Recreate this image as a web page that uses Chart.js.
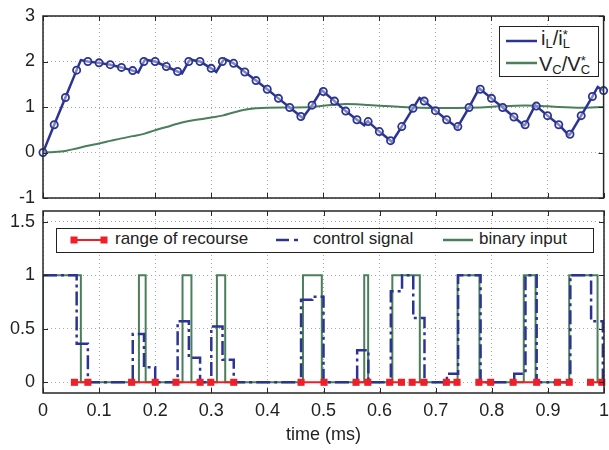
<!DOCTYPE html>
<html>
<head>
<meta charset="utf-8">
<script src="https://cdn.jsdelivr.net/npm/chart.js@4/dist/chart.umd.min.js"></script>
<style>
  html, body { margin:0; padding:0; background:#fff; }
  #wrap { position:relative; width:609px; height:450px; overflow:hidden; font-family:"Liberation Sans", Arial, sans-serif; color:#222; }
  canvas { position:absolute; left:0; }
  .leg { position:absolute; border:1.5px solid #222; background:#fff; box-sizing:border-box; }
  .leg svg { position:absolute; }
  .lt { position:absolute; white-space:nowrap; line-height:20px; }
  .sb { font-size:13px; position:relative; top:3px; }
  .st { position:relative; display:inline-block; width:8px; height:1px; }
  .st .a { position:absolute; left:0; bottom:4.5px; font-size:13px; line-height:13px; }
  .st .b { position:absolute; left:0; top:-7px; font-size:13px; line-height:13px; }
</style>
</head>
<body>
<div id="wrap">
  <canvas id="c1" width="609" height="205" style="top:0"></canvas>
  <canvas id="c2" width="609" height="245" style="top:205px"></canvas>

  <div class="leg" style="left:499px; top:26px; width:100px; height:51px;">
    <svg style="left:6px; top:12px" width="31" height="4"><line x1="0" y1="2" x2="31" y2="2" stroke="#2c3493" stroke-width="2.5"/></svg>
    <div class="lt" style="left:41px; top:1px; font-size:20px;">i<span class="sb">L</span>/i<span class="st"><span class="a">*</span><span class="b">L</span></span></div>
    <svg style="left:6px; top:34px" width="31" height="4"><line x1="0" y1="2" x2="31" y2="2" stroke="#4a7f5a" stroke-width="2.5"/></svg>
    <div class="lt" style="left:39px; top:27px; font-size:20px;">V<span class="sb">C</span>/V<span class="st"><span class="a">*</span><span class="b">C</span></span></div>
  </div>

  <div class="leg" style="left:56px; top:228px; width:538px; height:25px;">
    <svg style="left:13px; top:6px" width="38" height="10">
      <line x1="4" y1="5" x2="34" y2="5" stroke="#ee1f26" stroke-width="2"/>
      <rect x="0.5" y="1.5" width="7" height="7" fill="#ee1f26"/>
      <rect x="30.5" y="1.5" width="7" height="7" fill="#ee1f26"/>
    </svg>
    <div class="lt" style="left:58px; top:0px; font-size:17px;">range of recourse</div>
    <svg style="left:219px; top:9px" width="32" height="4"><line x1="0" y1="2" x2="32" y2="2" stroke="#2c3493" stroke-width="2.5" stroke-dasharray="13,5,4,20"/></svg>
    <div class="lt" style="left:256px; top:0px; font-size:17px;">control signal</div>
    <svg style="left:386px; top:9px" width="30" height="4"><line x1="0" y1="2" x2="30" y2="2" stroke="#4a7f5a" stroke-width="2.5"/></svg>
    <div class="lt" style="left:422px; top:0px; font-size:17px;">binary input</div>
  </div>
</div>

<script>
// ---------- data ----------
const timeTicks = [0, 0.1, 0.2, 0.3, 0.4, 0.5, 0.6, 0.7, 0.8, 0.9, 1];
const topYTicks = [-1, 0, 1, 2, 3];
const bottomYTicks = [0, 0.5, 1, 1.5];

// inductor current samples (markers)
const sampleTimes = [0, 0.02, 0.04, 0.06, 0.08, 0.10, 0.12, 0.14, 0.16, 0.18,
  0.20, 0.22, 0.24, 0.26, 0.28, 0.30, 0.32, 0.34, 0.36, 0.38,
  0.40, 0.42, 0.44, 0.46, 0.48, 0.50, 0.52, 0.54, 0.56, 0.58,
  0.60, 0.62, 0.64, 0.66, 0.68, 0.70, 0.72, 0.74, 0.76, 0.78,
  0.80, 0.82, 0.84, 0.86, 0.88, 0.90, 0.92, 0.94, 0.96, 0.98, 1.00];
const iLSamples = [0, 0.61, 1.21, 1.81, 2.00, 1.97, 1.93, 1.87, 1.80, 2.00,
  2.00, 1.89, 1.78, 2.00, 2.00, 1.85, 2.00, 1.96, 1.77, 1.58,
  1.39, 1.19, 0.99, 0.79, 1.04, 1.34, 1.13, 0.91, 0.72, 0.68,
  0.46, 0.26, 0.57, 0.97, 1.13, 0.92, 0.72, 0.57, 0.99, 1.39,
  1.19, 0.99, 0.78, 0.61, 1.02, 0.81, 0.61, 0.40, 0.81, 1.23, 1.36];
// inductor current at switching instants (kinks between samples)
const switchTimes = [0.0675, 0.170, 0.182, 0.248, 0.263, 0.309, 0.324, 0.463, 0.497,
  0.573, 0.5796, 0.6225, 0.6715, 0.739, 0.778, 0.858, 0.878, 0.938, 0.9895];
const iLAtSwitch = [2.03, 1.76, 2.04, 1.74, 2.04, 1.77, 2.06, 0.76, 1.37,
  0.60, 0.69, 0.23, 1.20, 0.55, 1.41, 0.595, 1.04, 0.38, 1.44];

// capacitor voltage
const vcTimes = [0, 0.02, 0.04, 0.06, 0.08, 0.10, 0.12, 0.14, 0.16, 0.18,
  0.20, 0.22, 0.24, 0.26, 0.28, 0.30, 0.32, 0.34, 0.36, 0.38,
  0.40, 0.44, 0.48, 0.50, 0.52, 0.54, 0.56, 0.58, 0.60, 0.62,
  0.64, 0.66, 0.70, 0.74, 0.78, 0.82, 0.86, 0.88, 0.92, 0.96, 1.00];
const vcValues = [0, 0.01, 0.035, 0.09, 0.15, 0.20, 0.255, 0.31, 0.36, 0.41,
  0.49, 0.56, 0.63, 0.69, 0.73, 0.77, 0.81, 0.88, 0.94, 0.97,
  0.985, 0.99, 1.0, 1.03, 1.05, 1.065, 1.06, 1.045, 1.03, 1.015,
  1.0, 0.99, 0.98, 0.98, 0.99, 1.02, 1.035, 1.03, 1.0, 0.985, 1.0];

// control signal (value held from each time)
const ctrlTimes = [0, 0.06, 0.08, 0.16, 0.18, 0.20, 0.24, 0.26, 0.28, 0.30, 0.32, 0.34,
  0.46, 0.48, 0.50, 0.56, 0.58, 0.62, 0.64, 0.66, 0.68, 0.72, 0.74, 0.78,
  0.84, 0.86, 0.88, 0.94, 0.977, 0.998, 1.0];
const ctrlValues = [1, 0.36, 0, 0.45, 0.14, 0, 0.57, 0.23, 0, 0.52, 0.21, 0,
  0.77, 0.80, 0, 0.30, 0, 0.85, 1, 0.60, 0, 0.08, 1, 0,
  0.08, 1, 0, 1, 0.57, 0, 0];

// binary input (value held from each time)
const binTimes = [0, 0, 0.0675, 0.171, 0.183, 0.2487, 0.2646, 0.31, 0.3248, 0.4634, 0.497,
  0.5726, 0.5796, 0.6227, 0.6717, 0.739, 0.778, 0.857, 0.878, 0.938, 0.9885, 1.0];
const binValues = [0, 1, 0, 1, 0, 1, 0, 1, 0, 1, 0,
  1, 0, 1, 0, 1, 0, 1, 0, 1, 0, 0];

// range of recourse intervals
const recourseStart = [0.056, 0.158, 0.237, 0.299, 0.460, 0.558, 0.618, 0.658, 0.719, 0.777, 0.838, 0.917, 0.976];
const recourseEnd   = [0.080, 0.200, 0.280, 0.340, 0.501, 0.579, 0.639, 0.679, 0.738, 0.798, 0.880, 0.938, 0.996];

// ---------- build library tables ----------
const BLUE = '#2c3493', GREEN = '#4a7f5a', RED = '#ee1f26';
const markerPts = sampleTimes.map((t, i) => ({x: t, y: iLSamples[i]}));
const iLLinePts = markerPts.concat(switchTimes.map((t, i) => ({x: t, y: iLAtSwitch[i]})))
  .sort((a, b) => a.x - b.x);
const vcPts = vcTimes.map((t, i) => ({x: t, y: vcValues[i]}));
const ctrlPts = ctrlTimes.map((t, i) => ({x: t, y: ctrlValues[i]}));
const binPts = binTimes.map((t, i) => ({x: t, y: binValues[i]}));
const recPts = [];
recourseStart.forEach((s, i) => {
  recPts.push({x: s, y: 0}, {x: recourseEnd[i], y: 0}, {x: recourseEnd[i], y: null});
});

Chart.defaults.font.family = '"Liberation Sans", Arial, sans-serif';
Chart.defaults.font.size = 18;
Chart.defaults.color = '#222';

const boxPlugin = {
  id: 'boxTicks',
  afterDraw(chart) {
    const {ctx, chartArea: a, scales: {x, y}} = chart;
    ctx.save();
    ctx.strokeStyle = '#262626';
    ctx.lineWidth = 1;
    ctx.beginPath();
    x.ticks.forEach(t => {
      const px = Math.round(x.getPixelForValue(t.value)) + 0.5;
      ctx.moveTo(px, a.bottom); ctx.lineTo(px, a.bottom - 5);
      ctx.moveTo(px, a.top); ctx.lineTo(px, a.top + 5);
    });
    y.ticks.forEach(t => {
      const py = Math.round(y.getPixelForValue(t.value)) + 0.5;
      ctx.moveTo(a.left, py); ctx.lineTo(a.left + 5, py);
      ctx.moveTo(a.right, py); ctx.lineTo(a.right - 5, py);
    });
    ctx.stroke();
    ctx.lineWidth = 1.5;
    ctx.strokeRect(a.left, a.top, a.right - a.left, a.bottom - a.top);
    ctx.restore();
  }
};

const fmt = v => String(Math.round(v * 100) / 100);
function gridCfg() { return { color: '#a8a8a8', lineWidth: 1, drawTicks: false }; }
function borderCfg() { return { display: false, dash: [1, 3] }; }
function noOverflow(s) { s.paddingTop = 0; s.paddingBottom = 0; s.paddingLeft = 0; s.paddingRight = 0; }

// ---------- top chart ----------
new Chart(document.getElementById('c1'), {
  type: 'line',
  data: {
    datasets: [
      { label: 'iL samples', data: markerPts, showLine: false, pointRadius: 3.6,
        pointBorderWidth: 1.8, pointBorderColor: BLUE, pointBackgroundColor: 'rgba(255,255,255,0.4)',
        pointHoverRadius: 3.6, clip: false },
      { label: 'iL/iL*', data: iLLinePts, borderColor: BLUE, borderWidth: 2.5, pointRadius: 0, tension: 0 },
      { label: 'VC/VC*', data: vcPts, borderColor: GREEN, borderWidth: 2, pointRadius: 0,
        cubicInterpolationMode: 'monotone' }
    ]
  },
  options: {
    responsive: false, animation: false, devicePixelRatio: 1,
    layout: { padding: { left: 0, right: 2, top: 16, bottom: 7 } },
    plugins: { legend: { display: false }, tooltip: { enabled: false } },
    scales: {
      x: { type: 'linear', min: 0, max: 1,
        afterBuildTicks: s => { s.ticks = timeTicks.map(v => ({value: v})); },
        afterFit: s => { s.height = 0; noOverflow(s); },
        ticks: { display: false }, grid: gridCfg(), border: borderCfg() },
      y: { type: 'linear', min: -1, max: 3,
        afterBuildTicks: s => { s.ticks = topYTicks.map(v => ({value: v})); },
        afterFit: s => { s.width = 43; noOverflow(s); },
        ticks: { padding: 8, callback: fmt }, grid: gridCfg(), border: borderCfg() }
    }
  },
  plugins: [boxPlugin]
});

// ---------- bottom chart ----------
new Chart(document.getElementById('c2'), {
  type: 'line',
  data: {
    datasets: [
      { label: 'range of recourse', data: recPts, borderColor: RED, borderWidth: 2,
        pointStyle: 'rect', pointRadius: 5, pointBorderWidth: 0, pointBackgroundColor: RED,
        pointHoverRadius: 5, spanGaps: false, clip: false },
      { label: 'control signal', data: ctrlPts, stepped: 'before', borderColor: BLUE, borderWidth: 2.5,
        borderDash: [14, 4, 3, 4], pointRadius: 0 },
      { label: 'binary input', data: binPts, stepped: 'before', borderColor: GREEN, borderWidth: 2,
        pointRadius: 0 }
    ]
  },
  options: {
    responsive: false, animation: false, devicePixelRatio: 1,
    layout: { padding: { left: 0, right: 2, top: 6, bottom: 0 } },
    plugins: { legend: { display: false }, tooltip: { enabled: false } },
    scales: {
      x: { type: 'linear', min: 0, max: 1,
        afterBuildTicks: s => { s.ticks = timeTicks.map(v => ({value: v})); },
        afterFit: s => { s.height = 57; noOverflow(s); },
        ticks: { padding: 7, maxRotation: 0, callback: fmt },
        title: { display: true, text: 'time (ms)', padding: { top: 0, bottom: 4 } },
        grid: gridCfg(), border: borderCfg() },
      y: { type: 'linear', min: -0.1, max: 1.6,
        afterBuildTicks: s => { s.ticks = bottomYTicks.map(v => ({value: v})); },
        afterFit: s => { s.width = 43; noOverflow(s); },
        ticks: { padding: 8, callback: fmt }, grid: gridCfg(), border: borderCfg() }
    }
  },
  plugins: [boxPlugin]
});
</script>
</body>
</html>
